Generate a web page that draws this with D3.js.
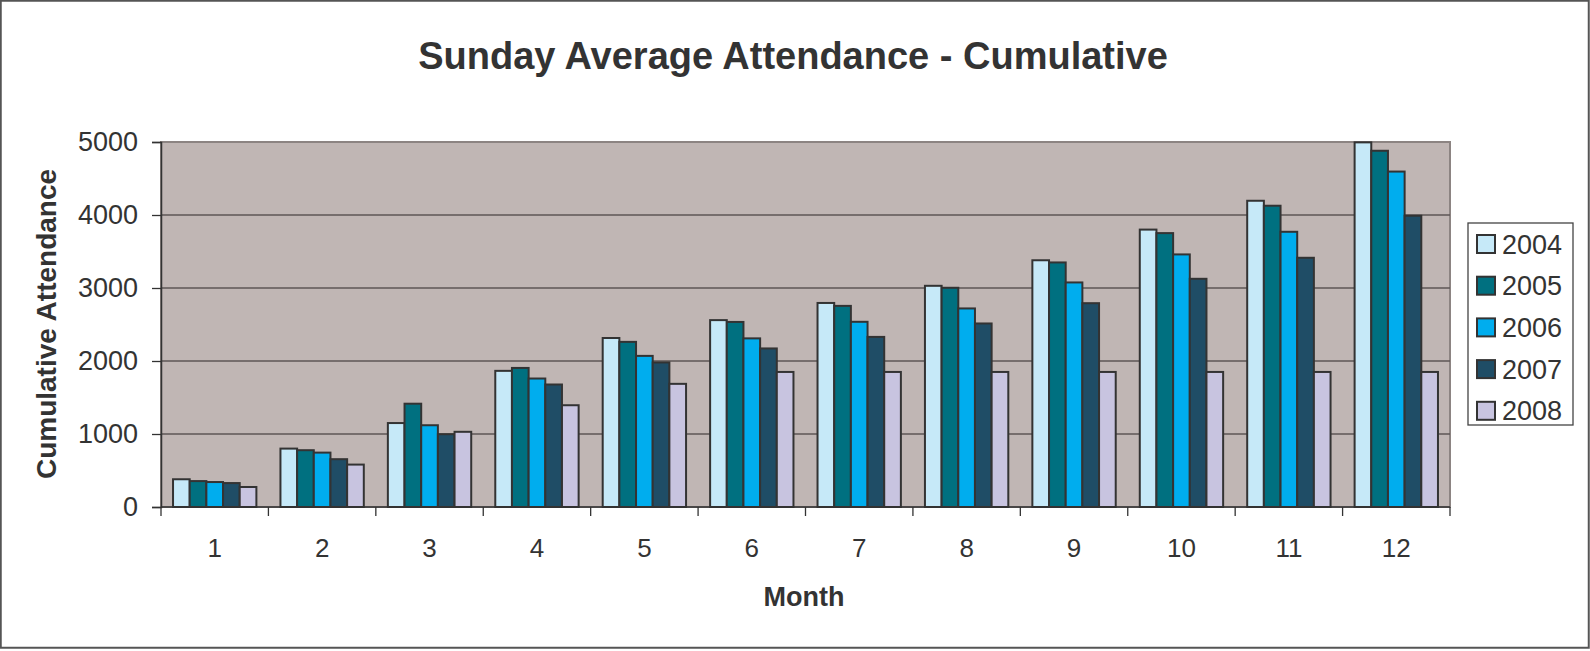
<!DOCTYPE html>
<html>
<head>
<meta charset="utf-8">
<title>Sunday Average Attendance - Cumulative</title>
<script src="https://cdn.jsdelivr.net/npm/d3@7"></script>
<style>
  body { margin: 0; background: #fff; }
  text { font-family: Arial, "Liberation Sans", sans-serif; fill: #333; }
</style>
</head>
<body>
<div id="chart"></div>
<script>
// data
var months = ["1", "2", "3", "4", "5", "6", "7", "8", "9", "10", "11", "12"];
var years = ["2004", "2005", "2006", "2007", "2008"];
var y2004 = [380, 800, 1150, 1865, 2315, 2560, 2795, 3030, 3380, 3800, 4195, 4995];
var y2005 = [355, 778, 1415, 1905, 2262, 2535, 2755, 3003, 3350, 3752, 4127, 4880];
var y2006 = [342, 745, 1120, 1760, 2070, 2310, 2537, 2720, 3076, 3460, 3770, 4595];
var y2007 = [328, 655, 997, 1678, 1980, 2172, 2330, 2514, 2792, 3126, 3414, 3990];
var y2008 = [274, 581, 1030, 1394, 1687, 1850, 1850, 1850, 1850, 1850, 1850, 1850];
var yTicks = [0, 1000, 2000, 3000, 4000, 5000];
var colors = ["#c6e9f8", "#007080", "#00adee", "#1f4d66", "#c8c4e0"];

var series = [y2004, y2005, y2006, y2007, y2008];

var W = 1590, H = 651;
var plot = { left: 161, top: 142, right: 1450, bottom: 507 };

var svg = d3.select("#chart").append("svg")
  .attr("width", W)
  .attr("height", H);

// outer chart border
svg.append("rect")
  .attr("x", 0.75).attr("y", 0.75)
  .attr("width", 1588).attr("height", 647)
  .attr("fill", "#fff")
  .attr("stroke", "#555")
  .attr("stroke-width", 2);

var x0 = d3.scaleBand()
  .domain(months)
  .range([plot.left, plot.right])
  .paddingInner(0.224)
  .paddingOuter(0.112);

var x1 = d3.scaleBand()
  .domain(years)
  .range([0, x0.bandwidth()]);

var y = d3.scaleLinear()
  .domain([0, 5000])
  .range([plot.bottom, plot.top]);

// plot background
svg.append("rect")
  .attr("x", plot.left).attr("y", plot.top)
  .attr("width", plot.right - plot.left)
  .attr("height", plot.bottom - plot.top)
  .attr("fill", "#c0b6b4")
  .attr("stroke", "#8c8482")
  .attr("stroke-width", 2);

// gridlines
svg.append("g")
  .selectAll("line")
  .data(yTicks.filter(function (d) { return d > 0 && d < 5000; }))
  .enter()
  .append("line")
  .attr("x1", plot.left).attr("x2", plot.right)
  .attr("y1", function (d) { return y(d); })
  .attr("y2", function (d) { return y(d); })
  .attr("stroke", "#5e5656")
  .attr("stroke-width", 1.3);

// bars
var groups = svg.append("g")
  .selectAll("g")
  .data(months)
  .enter()
  .append("g")
  .attr("transform", function (d) { return "translate(" + x0(d) + ",0)"; });

groups.selectAll("rect")
  .data(function (m, i) {
    return years.map(function (yr, k) { return { year: yr, k: k, value: series[k][i] }; });
  })
  .enter()
  .append("rect")
  .attr("x", function (d) { return x1(d.year); })
  .attr("y", function (d) { return y(d.value); })
  .attr("width", x1.bandwidth())
  .attr("height", function (d) { return y(0) - y(d.value); })
  .attr("fill", function (d) { return colors[d.k]; })
  .attr("stroke", "#333")
  .attr("stroke-width", 2);

// y axis
var yAxis = svg.append("g")
  .attr("transform", "translate(" + plot.left + ",0)")
  .call(d3.axisLeft(y).tickValues(yTicks).tickFormat(d3.format("d")).tickSize(9).tickPadding(14));
yAxis.select(".domain").attr("stroke", "#333").attr("stroke-width", 1.5);
yAxis.selectAll(".tick line").attr("stroke", "#333").attr("stroke-width", 1.3);
yAxis.selectAll(".tick text")
  .style("font-size", "27px")
  .style("font-family", "Arial, 'Liberation Sans', sans-serif")
  .attr("fill", "#333");

// x axis: ticks between the months, labels centred
var xAxisG = svg.append("g")
  .attr("transform", "translate(0," + plot.bottom + ")");
xAxisG.append("line")
  .attr("x1", plot.left).attr("x2", plot.right)
  .attr("stroke", "#333").attr("stroke-width", 1.5);
var step = x0.step();
xAxisG.selectAll("line.tk")
  .data(d3.range(months.length + 1))
  .enter()
  .append("line")
  .attr("class", "tk")
  .attr("x1", function (i) { return plot.left + i * step; })
  .attr("x2", function (i) { return plot.left + i * step; })
  .attr("y1", 0).attr("y2", 9)
  .attr("stroke", "#333").attr("stroke-width", 1.3);
xAxisG.selectAll("text")
  .data(months)
  .enter()
  .append("text")
  .attr("x", function (d) { return x0(d) + x0.bandwidth() / 2; })
  .attr("y", 50)
  .attr("text-anchor", "middle")
  .style("font-size", "26px")
  .text(function (d) { return d; });

// titles
svg.append("text")
  .attr("x", 793).attr("y", 69)
  .attr("text-anchor", "middle")
  .style("font-size", "38px")
  .style("font-weight", "bold")
  .text("Sunday Average Attendance - Cumulative");

svg.append("text")
  .attr("x", 804).attr("y", 606)
  .attr("text-anchor", "middle")
  .style("font-size", "27px")
  .style("font-weight", "bold")
  .text("Month");

svg.append("text")
  .attr("transform", "translate(56,324) rotate(-90)")
  .attr("text-anchor", "middle")
  .style("font-size", "28px")
  .style("font-weight", "bold")
  .text("Cumulative Attendance");

// legend
var legend = svg.append("g").attr("transform", "translate(1468,223)");
legend.append("rect")
  .attr("width", 105).attr("height", 202)
  .attr("fill", "#fff")
  .attr("stroke", "#444").attr("stroke-width", 1.3);
var item = legend.selectAll("g")
  .data(years)
  .enter()
  .append("g")
  .attr("transform", function (d, i) { return "translate(9," + (21 + i * 41.7) + ")"; });
item.append("rect")
  .attr("x", 0).attr("y", -9)
  .attr("width", 18).attr("height", 18)
  .attr("fill", function (d, i) { return colors[i]; })
  .attr("stroke", "#333").attr("stroke-width", 2);
item.append("text")
  .attr("x", 25).attr("y", 9.5)
  .style("font-size", "27px")
  .text(function (d) { return d; });
</script>
</body>
</html>
